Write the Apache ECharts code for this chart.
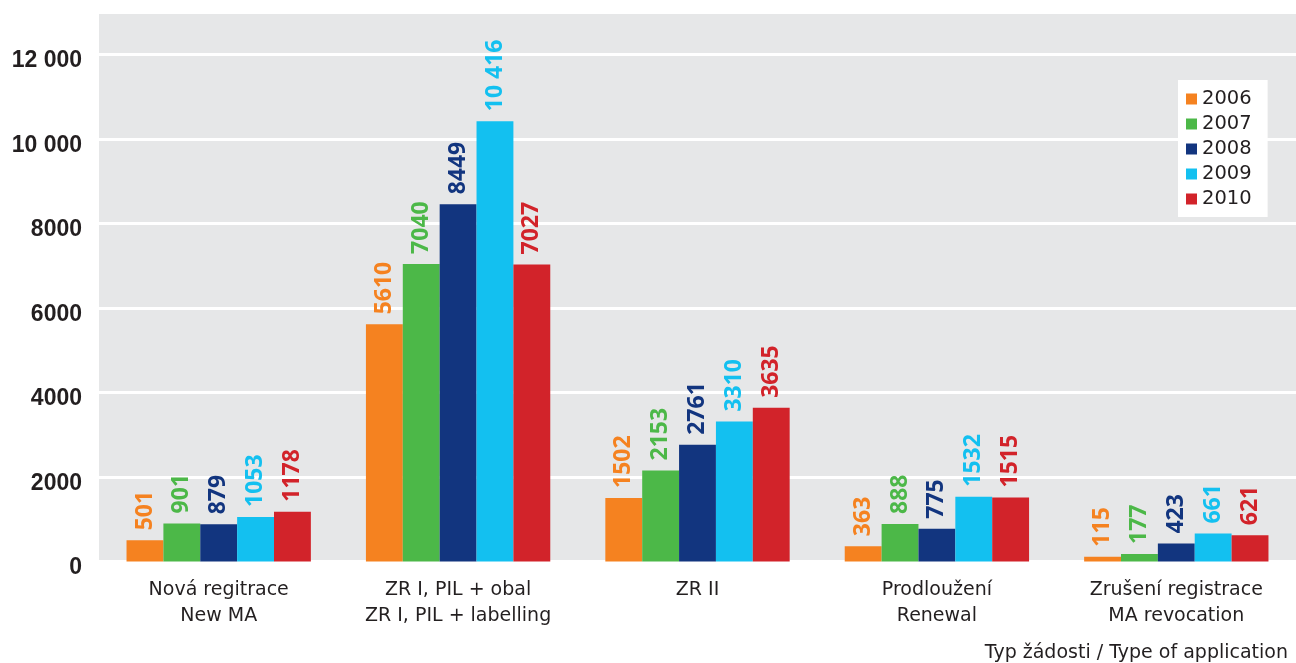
<!DOCTYPE html>
<html>
<head>
<meta charset="utf-8">
<script src="https://cdn.jsdelivr.net/npm/echarts@6/dist/echarts.min.js"></script>
<style>
  html, body { margin: 0; padding: 0; background: #ffffff; }
  #chart { width: 1296px; height: 663px; }
</style>
</head>
<body>
<div id="chart"></div>
<script>
// Application types (Czech / English)
const categories = [
  'Nová regitrace\nNew MA',
  'ZR I, PIL + obal\nZR I, PIL + labelling',
  'ZR II',
  'Prodloužení\nRenewal',
  'Zrušení registrace\nMA revocation'
];
const years = ['2006', '2007', '2008', '2009', '2010'];
const values2006 = [501, 5610, 1502, 363, 115];
const values2007 = [901, 7040, 2153, 888, 177];
const values2008 = [879, 8449, 2761, 775, 423];
const values2009 = [1053, 10416, 3310, 1532, 661];
const values2010 = [1178, 7027, 3635, 1515, 621];
const yearColors = ['#f58220', '#4cb848', '#12357f', '#13c0f0', '#d2232a'];
const axisTitle = 'Typ žádosti / Type of application';

// numbers of 10 000 and more get a space as thousands separator
function fmt(v) {
  if (v >= 10000) {
    const s = String(Math.round(v));
    return s.slice(0, s.length - 3) + ' ' + s.slice(s.length - 3);
  }
  return String(v);
}

const seriesValues = [values2006, values2007, values2008, values2009, values2010];
const textFont = 'DejaVu Sans';

const chart = echarts.init(document.getElementById('chart'), null, { renderer: 'canvas' });

chart.setOption({
  animation: false,
  backgroundColor: '#ffffff',
  title: {
    text: axisTitle,
    right: 8,
    top: 644,
    padding: 0,
    textStyle: { fontFamily: textFont, fontWeight: 'normal', fontSize: 19, color: '#231f20' }
  },
  legend: {
    data: years,
    orient: 'vertical',
    left: 1178,
    top: 80,
    backgroundColor: '#ffffff',
    padding: [9, 16, 8, 8],
    itemWidth: 11,
    itemHeight: 11,
    itemGap: 5,
    icon: 'rect',
    textStyle: { fontFamily: textFont, fontSize: 19.5, color: '#231f20', lineHeight: 20 }
  },
  grid: {
    left: 99,
    right: 0,
    top: 12,
    bottom: 101.5,
    show: true,
    backgroundColor: '#e6e7e8',
    borderWidth: 0
  },
  xAxis: {
    type: 'category',
    data: categories,
    axisLine: { show: false },
    axisTick: { show: false },
    axisLabel: {
      interval: 0,
      margin: 16,
      fontFamily: textFont,
      fontSize: 19,
      lineHeight: 26,
      color: '#231f20'
    }
  },
  yAxis: {
    type: 'value',
    min: 0,
    max: 13000,
    interval: 2000,
    axisLine: { show: false },
    axisTick: { show: false },
    splitLine: { lineStyle: { color: '#ffffff', width: 3 } },
    axisLabel: {
      margin: 17,
      showMaxLabel: false,
      fontFamily: 'Liberation Sans',
      fontWeight: 'bold',
      fontSize: 23,
      color: '#231f20',
      verticalAlign: 'top',
      lineHeight: 13,
      formatter: function (v) { return v > 12000 ? '' : fmt(v); }
    }
  },
  series: years.map(function (y, i) {
    return {
      name: y,
      type: 'bar',
      data: seriesValues[i],
      barGap: '0%',
      barCategoryGap: '23%',
      itemStyle: { color: yearColors[i] },
      label: {
        show: true,
        position: 'top',
        rotate: 90,
        align: 'left',
        verticalAlign: 'middle',
        distance: 10,
        fontFamily: 'Open Sans',
        fontWeight: 'bold',
        fontSize: 23,
        color: yearColors[i],
        formatter: function (p) { return fmt(p.value); }
      }
    };
  })
});
</script>
</body>
</html>
